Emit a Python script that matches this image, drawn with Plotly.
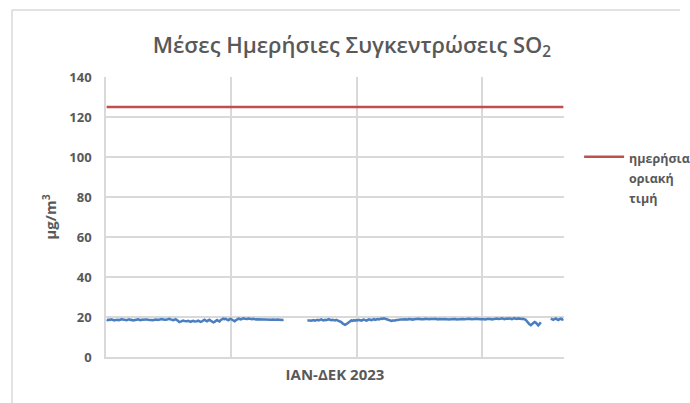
import plotly.graph_objects as go

# Day index (category) 0..364 for 2023
days = list(range(365))

# Daily mean SO2 concentrations (µg/m3), None = missing data
so2_daily = (
    [18.6, 18.4, 18.7, 18.5, 18.8, 18.6, 18.3, 18.5, 18.7, 18.6,
     18.4, 18.6, 18.9, 18.7, 18.5, 18.6, 18.4, 18.7, 18.8, 18.5,
     18.6, 18.3, 18.5, 18.7, 18.6, 18.8, 18.6, 18.4, 18.6, 18.7,
     18.5, 18.6, 18.8, 18.6, 18.5, 18.7, 18.6, 18.4, 18.6, 18.8,
     18.7, 18.5, 18.6, 18.8, 19.0, 18.7, 18.5, 18.6, 18.7, 18.9,
     19.1, 18.8, 18.6, 18.4, 18.6, 18.9, 18.5, 17.8, 17.5, 17.7,
     18.0, 18.2, 18.0, 17.8, 17.9, 18.1, 17.8, 17.6, 17.9, 18.1,
     17.8, 17.7, 17.9, 18.2, 17.9, 17.6, 17.8, 18.3, 18.6, 18.2,
     17.9, 18.3, 18.6, 18.1, 17.7, 17.3, 17.6, 18.2, 18.5, 18.1,
     17.8, 18.5, 19.0, 19.2, 18.9, 19.1, 18.7, 18.4, 18.9, 19.1,
     18.6, 18.1, 17.9, 18.4, 18.9, 19.2, 19.0, 18.8, 19.1, 19.3,
     19.1, 18.9, 19.0, 19.2, 19.0, 18.8, 18.9, 19.1, 18.9, 18.8,
     18.9, 18.8, 18.7, 18.9, 18.8, 18.7, 18.8, 18.7, 18.6, 18.8,
     18.7, 18.6, 18.7, 18.6, 18.5, 18.6, 18.7, 18.6, 18.5, 18.6,
     18.5, 18.6]
    + [None] * 18
    + [18.2, 18.4, 18.3, 18.1, 18.3, 18.5, 18.2, 18.4, 18.6, 18.3,
       18.5, 18.8, 18.5, 18.3, 18.6, 18.4, 18.7, 18.9, 18.6, 18.4,
       18.6, 18.5, 18.3, 18.6, 18.4, 18.2, 18.0, 17.5, 16.8, 16.3,
       16.1, 16.4, 17.0, 17.6, 18.0, 18.3, 18.1, 18.4, 18.2, 18.5,
       18.3, 18.6, 18.4, 18.2, 18.5, 18.7, 18.4, 18.2, 18.5, 18.8,
       18.6, 18.4, 18.7, 18.9, 18.6, 18.8, 19.0, 18.8, 19.1, 19.2,
       19.0, 19.3, 19.1, 18.9, 18.6, 18.3, 18.1, 18.0, 18.2, 18.1,
       18.3, 18.5, 18.4, 18.6, 18.8, 18.6, 18.7, 18.9, 18.8, 18.7,
       18.8, 19.0, 18.8, 18.9, 18.7, 18.9, 19.0, 18.8, 18.9, 19.1,
       18.9, 18.8, 19.0, 18.9, 19.1, 19.0, 18.8, 18.9, 19.0, 18.9,
       18.8, 19.0, 19.1, 18.9, 18.8, 19.0, 18.9, 18.7, 18.9, 19.0,
       18.9, 19.1, 19.0, 18.8, 18.9, 19.0, 19.1, 18.9, 19.0, 18.8,
       18.9, 19.0, 18.9, 19.1, 19.0, 18.9, 18.8, 19.0, 19.1, 18.9,
       19.0, 18.9, 18.8, 19.0, 19.1, 19.0, 18.9, 18.8, 18.9, 19.0,
       18.9, 18.7, 18.8, 19.0, 19.1, 18.9, 19.0, 18.8, 18.9, 19.1,
       19.0, 19.2, 19.0, 18.9, 19.1, 19.3, 19.0, 18.9, 19.1, 19.2,
       19.0, 19.3, 19.1, 18.9, 19.2, 19.4, 19.1, 19.0, 19.3, 19.1,
       19.2, 19.0, 19.1, 18.9, 18.6, 17.8, 16.9, 16.3, 15.9, 16.4,
       17.0, 17.5, 17.2, 16.4, 15.8, 16.5, 17.4]
    + [None] * 7
    + [19.2, 18.9, 18.6, 19.0, 19.3, 18.8, 18.5, 18.9, 19.2, 18.7, 19.0]
)

# Daily limit value (µg/m3)
limit_value = [125] * 365

y_ticks = [0, 20, 40, 60, 80, 100, 120, 140]
x_grid = [100, 200, 300]

title_text = "Μέσες Ημερήσιες Συγκεντρώσεις SO<sub>2</sub>"
x_title = "ΙΑΝ-ΔΕΚ 2023"
y_title = "μg/m<sup>3</sup>"
legend_words = ["ημερήσια", "οριακή", "τιμή"]

FONT = "Open Sans"
GREY = "#595959"
GRID = "#d9d9d9"

legend_name = "<br>".join(
    "<span style='font-size:12.5px'>%s</span>" % w for w in legend_words
)

x_pos = [d + 0.5 for d in days]

fig = go.Figure()
fig.add_trace(go.Scatter(
    x=x_pos, y=so2_daily, mode="lines",
    line=dict(color="#4a7ebf", width=2.5),
    connectgaps=False, showlegend=False, hoverinfo="skip",
))
fig.add_trace(go.Scatter(
    x=x_pos, y=limit_value, mode="lines",
    line=dict(color="#c0504d", width=2.5),
    name=legend_name, showlegend=True,
))

fig.update_layout(
    width=690, height=403,
    margin=dict(l=106, r=126, t=77, b=46, autoexpand=False),
    paper_bgcolor="white", plot_bgcolor="white",
    font=dict(family=FONT, color=GREY),
    title=dict(text=title_text, x=0.537, xref="paper", xanchor="center",
               y=1 - 45 / 403, yref="container", yanchor="middle",
               font=dict(family=FONT, size=22, color=GREY, weight=600)),
    legend=dict(x=1.033, y=0.774, xanchor="left", yanchor="top",
                valign="top", font=dict(family=FONT, size=15.5, color=GREY, weight="bold"),
                bgcolor="rgba(0,0,0,0)", itemwidth=40),
    showlegend=True,
)

fig.update_xaxes(
    range=[0, 365], tickvals=x_grid, showticklabels=False,
    showgrid=True, gridcolor=GRID, gridwidth=1.5,
    showline=True, linecolor=GRID, linewidth=1.5, zeroline=False,
    ticks="",
    title=dict(text=x_title, standoff=12,
               font=dict(family=FONT, size=15, color=GREY, weight="bold")),
)
fig.update_yaxes(
    range=[0, 140], tickvals=y_ticks,
    showgrid=True, gridcolor=GRID, gridwidth=1.5,
    showline=True, linecolor=GRID, linewidth=1.5, zeroline=False,
    ticks="", ticklabelstandoff=10,
    tickfont=dict(family=FONT, size=13, color=GREY, weight="bold"),
    title=dict(text=y_title, standoff=9,
               font=dict(family=FONT, size=15, color=GREY, weight="bold")),
)

# outer chart frame (light grey)
fx0 = (12 - 106) / 458
fy1 = (357 - 10) / 280
fx1 = (680 - 106) / 458
fig.add_shape(type="line", xref="paper", yref="paper", x0=fx0, x1=fx0,
              y0=-0.5, y1=fy1, line=dict(color=GRID, width=1.5))
fig.add_shape(type="line", xref="paper", yref="paper", x0=fx0, x1=fx1,
              y0=fy1, y1=fy1, line=dict(color=GRID, width=1.5))

fig.write_html(
    "out.html",
    config={"displayModeBar": False},
    post_script="document.body.style.margin='0';document.body.style.overflow='hidden';",
)
